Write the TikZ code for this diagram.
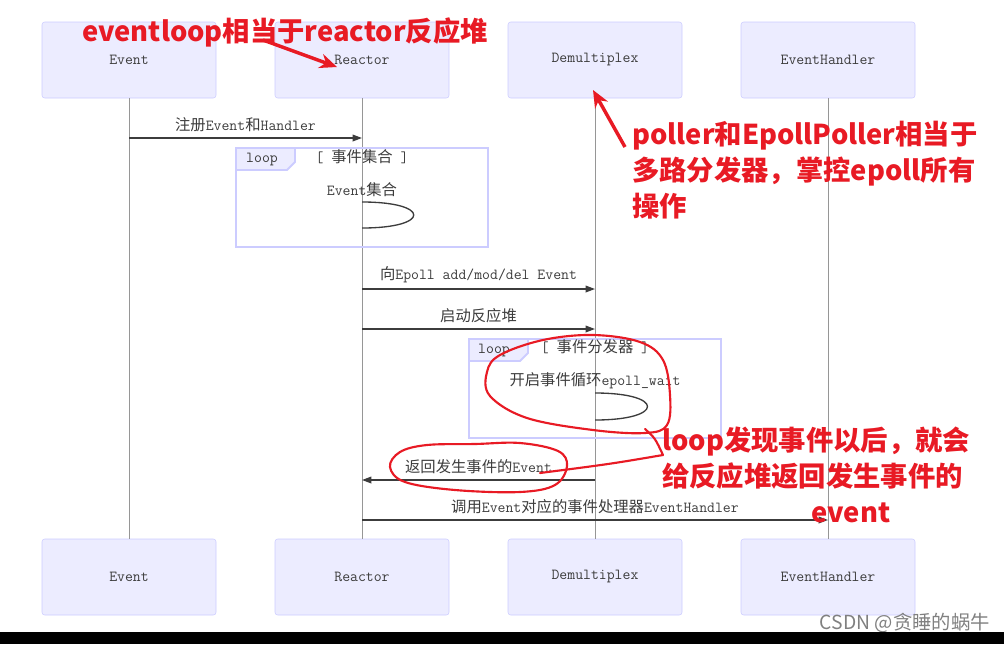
\documentclass[tikz,border=0pt]{standalone}
\usepackage{fontspec}
\usetikzlibrary{arrows.meta}
\newfontfamily\cjk{Noto Sans CJK SC}
\newcommand{\zh}[1]{{\cjk #1}}
\newcommand{\diagfont}{\ttfamily\fontsize{11.5}{13}\selectfont}
\newcommand{\notefont}{\cjk\bfseries\fontsize{20.5}{27}\selectfont}
\definecolor{actorfill}{RGB}{236,236,255}
\definecolor{actorline}{RGB}{204,204,255}
\definecolor{msgtext}{RGB}{60,60,60}
\definecolor{lifegray}{RGB}{150,150,150}
\definecolor{redink}{RGB}{232,26,36}
\tikzset{
  diag/.style={font=\diagfont, text=msgtext, inner sep=0pt},
  actor/.style={diag, draw=actorline, fill=actorfill, rounded corners=2pt,
    minimum width=130.5pt, minimum height=57pt},
  lifeline/.style={draw=lifegray, line width=0.7pt},
  msg/.style={draw=msgtext, line width=1pt, -{Triangle[length=7pt,width=5pt]}},
  msglabel/.style={diag, above=4pt},
  selfloop/.style={draw=msgtext, line width=1pt},
  loopbox/.style={draw=actorline, line width=1.4pt},
  looptab/.style={draw=actorline, fill=actorfill, line width=1.4pt},
  note/.style={text=redink, font=\notefont, inner sep=0pt, align=left},
  ink/.style={draw=redink, line width=1.6pt, line cap=round, line join=round},
  inkarrow/.style={draw=redink, line width=2.6pt, -{Stealth[length=13pt,width=11pt]}},
}
\begin{document}
\begin{tikzpicture}[x=0.75pt,y=-0.75pt]
  \useasboundingbox (0,0) rectangle (1004,644);
  % participants with their lifelines
  \foreach \nm/\x/\lbl in {ev/129/Event,re/362/Reactor,de/595/Demultiplex,eh/828/EventHandler}{
    \node[actor] (\nm T) at (\x,60) {\lbl};
    \node[actor] (\nm B) at (\x,577) {\lbl};
    \draw[lifeline] (\nm T) -- (\nm B);
  }
  % first loop
  \draw[loopbox] (236,148) rectangle (488,247);
  \draw[looptab] (236,148) -- (295,148) -- (295,162) -- (287,170) -- (236,170) -- cycle;
  \node[diag] (tabA) at (262,160) {loop};
  \node[diag] (condA) at (362,157) {[ \zh{事件集合} ]};
  % second loop
  \draw[loopbox] (469,339) rectangle (721,438);
  \draw[looptab] (469,339) -- (528,339) -- (528,353) -- (520,361) -- (469,361) -- cycle;
  \node[diag] (tabB) at (494,351) {loop};
  \node[diag] (condB) at (595,347) {[ \zh{事件分发器} ]};
  % messages
  \draw[msg] (evT |- 0,138) -- node[msglabel]{\zh{注册}Event\zh{和}Handler} (reT |- 0,138);
  \node[diag] (selfA) at (362,190) {Event\zh{集合}};
  \draw[selfloop] (reT |- 0,202) .. controls (431,202) and (431,228) .. (reT |- 0,228);
  \draw[msg] (reT |- 0,289) -- node[msglabel]{\zh{向}Epoll add/mod/del Event} (deT |- 0,289);
  \draw[msg] (reT |- 0,329) -- node[msglabel]{\zh{启动反应堆}} (deT |- 0,329);
  \node[diag] (selfB) at (595,381) {\zh{开启事件循环}epoll\_wait};
  \draw[selfloop] (deT |- 0,393) .. controls (665,393) and (665,420) .. (deT |- 0,420);
  \draw[msg] (deT |- 0,480) -- node[msglabel]{\zh{返回发生事件的}Event} (reT |- 0,480);
  \draw[msg] (reT |- 0,520) -- node[msglabel]{\zh{调用}Event\zh{对应的事件处理器}EventHandler} (ehT |- 0,520);
  % red annotations
  \node[note, anchor=base west] (noteRe) at (82,41) {eventloop相当于reactor反应堆};
  \coordinate (arrReS) at (263,40);
  \coordinate (arrReE) at (337,67);
  \draw[inkarrow] (arrReS) -- (arrReE);
  \node[note, anchor=north west] (noteDe) at (632,121)
    {poller和EpollPoller相当于\\多路分发器，掌控epoll所有\\操作};
  \coordinate (arrDeS) at (625,147);
  \coordinate (arrDeE) at (593,90);
  \draw[inkarrow] (arrDeS) -- (arrDeE);
  \node[note, anchor=north west] (noteLoop) at (662,427)
    {loop发现事件以后，就会\\给反应堆返回发生事件的\\\hspace*{112pt}event};
  % hand drawn rings
  \draw[ink] plot[smooth cycle, tension=0.6] coordinates {(593,335) (640,342) (663,360) (670,395)
    (667,425) (645,433) (593,430) (527,418) (490,396) (487,372) (500,355) (543,340)};
  \draw[ink] (645,429) .. controls (655,438) .. (663,455) .. controls (610,464) .. (540,473);
  \draw[ink] plot[smooth cycle, tension=0.6] coordinates {(427,445) (475,444) (520,443) (558,451)
    (567,466) (555,485) (520,492) (455,490) (405,482) (390,467) (400,452)};
  % watermark and bottom bar
  \node[font=\cjk\fontsize{14.5}{16}\selectfont, text=black!50, anchor=base east, inner sep=0pt]
    (mark) at (990,629) {CSDN @贪睡的蜗牛};
  \fill[black] (0,632) rectangle (1004,644);
\end{tikzpicture}
\end{document}
